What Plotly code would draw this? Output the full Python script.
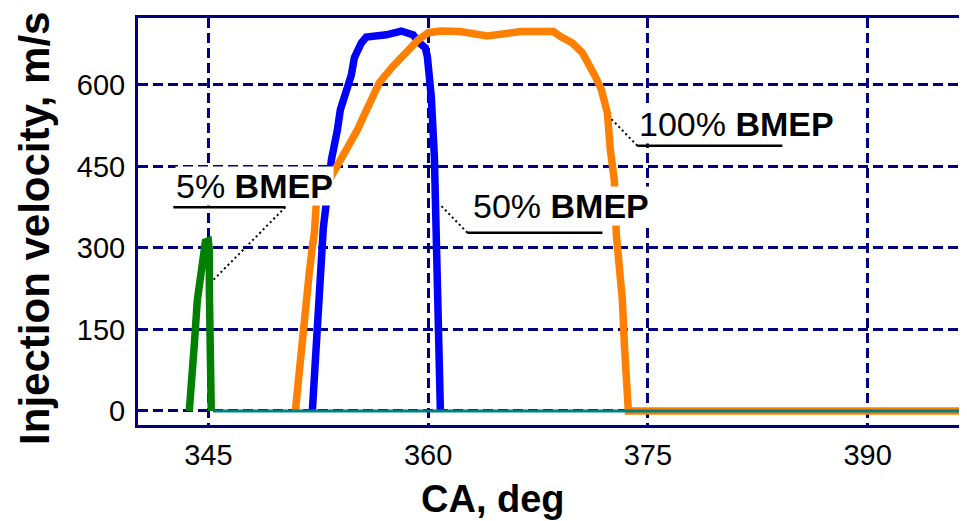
import plotly.graph_objects as go

# ---- data ----
ca_5 = [343.70, 343.84, 344.04, 344.25, 344.45, 344.59, 344.80, 345.00, 345.07, 345.07, 345.14, 345.20, 345.20]
v_5 = [0, 39, 121, 204, 250, 287, 311, 313, 296, 223, 149, 57, 0]

ca_50 = [352.10, 352.24, 352.44, 352.65, 352.85, 353.40, 353.60, 353.81, 354.01, 354.42, 354.76,
         354.97, 355.44, 355.78, 357.15, 358.17, 358.99, 359.33, 359.81, 359.95, 360.09, 360.22,
         360.43, 360.63, 360.84, 360.84]
v_50 = [0, 57, 149, 237, 337, 462, 486, 517, 554, 587, 618, 650, 677, 688, 692, 699, 692, 679,
        668, 652, 618, 578, 467, 283, 94, 0]

ca_100 = [350.94, 351.14, 351.35, 351.55, 351.69, 351.89, 352.10, 352.24, 352.37, 353.81, 354.15,
          354.76, 355.17, 355.58, 356.13, 356.67, 357.56, 358.24, 358.92, 359.33, 360.02, 360.84,
          362.20, 364.04, 366.30, 368.55, 369.10, 369.85, 370.53, 370.94, 371.42, 371.83, 372.03,
          372.24, 372.44, 372.71, 372.85, 373.05, 373.26, 373.40, 373.60, 373.67, 398.0]
v_100 = [0, 57, 118, 162, 223, 254, 302, 328, 383, 449, 467, 493, 517, 541, 572, 604, 633, 652,
         670, 683, 696, 699, 698, 690, 698, 698, 688, 677, 659, 641, 615, 591, 572, 548, 480, 425,
         324, 269, 204, 121, 39, 0, 0]

ca_base = [345.34, 398.0]
v_base = [0, 0]

x_ticks = [345, 360, 375, 390]
y_ticks = [0, 150, 300, 450, 600]

# label texts and anchor points (data units)
labels = ["5% <b>BMEP</b>", "50% <b>BMEP</b>", "100% <b>BMEP</b>"]
label_x = [348.14, 369.10, 381.04]
label_y = [414, 377, 528]
underline_x0 = [342.61, 362.68, 374.28]
underline_x1 = [350.26, 371.90, 384.18]
underline_y = [375, 328, 488]
leader_from_x = [350.26, 362.68, 374.28]
leader_to_x = [345.34, 360.84, 372.37]
leader_to_y = [241, 379, 541]

GRID = '#000080'
FONT = 'Liberation Sans, Arial, sans-serif'

fig = go.Figure()
fig.add_trace(go.Scatter(x=ca_50, y=v_50, mode='lines', line=dict(color='#0000FF', width=7.5), name='50% BMEP'))
fig.add_trace(go.Scatter(x=ca_100, y=v_100, mode='lines', line=dict(color='#FF8000', width=7.5), name='100% BMEP'))
fig.add_trace(go.Scatter(x=ca_5, y=v_5, mode='lines', line=dict(color='#008000', width=7.5), name='5% BMEP'))
fig.add_trace(go.Scatter(x=ca_base, y=v_base, mode='lines', line=dict(color='#008080', width=3), name='base'))

for i in range(len(labels)):
    fig.add_trace(go.Scatter(x=[underline_x0[i], underline_x1[i]], y=[underline_y[i], underline_y[i]],
                             mode='lines', line=dict(color='black', width=2.5), hoverinfo='skip'))
    fig.add_trace(go.Scatter(x=[leader_from_x[i], leader_to_x[i]], y=[underline_y[i], leader_to_y[i]],
                             mode='lines', line=dict(color='black', width=2, dash='2px,3px'), hoverinfo='skip'))
    fig.add_annotation(x=label_x[i], y=label_y[i], text=labels[i], showarrow=False,
                       xanchor='center', yanchor='middle', bgcolor='white', borderpad=0,
                       font=dict(family=FONT, size=34, color='black'))

fig.add_annotation(xref='paper', yref='paper', x=0.424, y=-0.183, text='<b>CA, deg</b>',
                   showarrow=False, xanchor='center', yanchor='middle',
                   font=dict(family=FONT, size=38, color='black'))
fig.add_annotation(xref='paper', yref='paper', x=-0.123, y=0.482, text='<b>Injection velocity, m/s</b>',
                   showarrow=False, xanchor='center', yanchor='middle', textangle=-90,
                   font=dict(family=FONT, size=42, color='black'))

fig.update_layout(
    width=967, height=521,
    margin=dict(l=130, r=0, t=10, b=104),
    plot_bgcolor='white', paper_bgcolor='white',
    showlegend=False,
    font=dict(family=FONT, color='black'),
)
fig.update_xaxes(range=[340.2, 397.33], tickmode='array', tickvals=x_ticks,
                 ticktext=[str(t) for t in x_ticks], showgrid=True, gridcolor=GRID, gridwidth=3,
                 griddash='10px,5px', showline=True, linecolor=GRID, linewidth=3, mirror=True,
                 ticks='', zeroline=False, tickfont=dict(size=29, family=FONT, color='black'),
                 ticklabelstandoff=2)
fig.update_yaxes(range=[-25.8, 723], tickmode='array', tickvals=y_ticks,
                 ticktext=[str(t) for t in y_ticks], showgrid=True, gridcolor=GRID, gridwidth=3,
                 griddash='10px,5px', showline=True, linecolor=GRID, linewidth=3, mirror=False,
                 ticks='', zeroline=False, tickfont=dict(size=29, family=FONT, color='black'),
                 ticklabelstandoff=4)

fig.write_html('out.html')
